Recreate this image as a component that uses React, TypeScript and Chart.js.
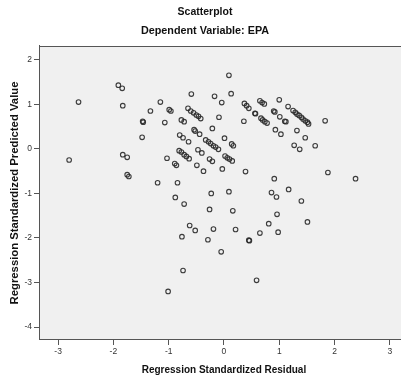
import React, { useEffect, useRef } from "react";
import { Chart, registerables } from "chart.js";

Chart.register(...registerables);

const residuals = [
  -1.91, -1.84, -2.63, -1.83, -1.15, -1.33, -0.99, -0.96, -1.47, -1.46,
  -1.07, -1.48, -1.83, -1.75, -2.8, -1.03, -1.75, -1.72, -1.2, -0.84,
  0.09, -0.59, -0.17, 0.13, -0.04, 0.37, 0.41, 0.45, 0.65, 0.69,
  0.73, -0.65, -0.6, -0.55, -0.5, -0.46, -0.42, -0.09, 0.56, 0.57,
  0.36, 0.67, 0.7, 0.74, 0.78, -0.77, -0.72, -0.54, -0.52, -0.44,
  -0.21, -0.8, -0.74, -0.64, -0.33, -0.28, -0.24, -0.19, -0.15, -0.1,
  0.01, 0.14, 0.17, -0.81, -0.77, -0.72, -0.68, -0.63, -0.47, -0.4,
  -0.89, -0.86, -0.26, -0.21, 0.02, 0.06, 0.1, 0.15, -0.49, -0.37,
  -0.03, 0.39, 1.0, 0.9, 0.92, 1.01, 1.1, 1.12, 1.16, 1.25,
  1.29, 1.32, 1.36, 1.4, 1.43, 1.47, 1.51, 1.53, 1.83, 0.93,
  1.03, 1.32, 1.47, 1.27, 1.37, 1.65, 0.91, 1.88, 2.38, 1.17,
  1.4, 0.86, 0.95, -0.88, -0.72, -0.23, 0.09, -0.26, 0.16, 0.96,
  -0.62, -0.52, -0.19, 0.21, 0.81, 1.51, 0.65, 0.98, -0.76, -0.29,
  0.45, 0.46, -0.05, -0.74, 0.59, -1.01,
];

const predicted = [
  1.43, 1.36, 1.05, 0.97, 1.05, 0.85, 0.88, 0.85, 0.62, 0.6,
  0.59, 0.26, -0.13, -0.19, -0.25, -0.21, -0.58, -0.62, -0.76, -0.76,
  1.65, 1.23, 1.18, 1.24, 1.04, 1.02, 0.97, 0.91, 1.08, 1.04,
  1.01, 0.91, 0.85, 0.81, 0.76, 0.73, 0.68, 0.71, 0.8, 0.79,
  0.62, 0.69, 0.65, 0.61, 0.58, 0.65, 0.61, 0.43, 0.4, 0.33,
  0.46, 0.31, 0.25, 0.16, 0.2, 0.16, 0.12, 0.07, 0.04, -0.01,
  0.24, 0.11, 0.07, -0.04, -0.07, -0.13, -0.17, -0.22, -0.02, -0.09,
  -0.33, -0.37, -0.23, -0.28, -0.16, -0.2, -0.23, -0.27, -0.37, -0.5,
  -0.45, -0.51, 1.1, 0.85, 0.83, 0.72, 0.62, 0.61, 0.95, 0.86,
  0.82, 0.78, 0.75, 0.71, 0.67, 0.63, 0.6, 0.56, 0.63, 0.43,
  0.33, 0.41, 0.25, 0.08, -0.01, 0.07, -0.67, -0.53, -0.67, -0.91,
  -1.17, -0.98, -1.08, -1.09, -1.24, -1.0, -0.96, -1.36, -1.39, -1.47,
  -1.72, -1.83, -1.8, -1.81, -1.68, -1.64, -1.89, -1.87, -1.97, -2.04,
  -2.05, -2.06, -2.31, -2.73, -2.95, -3.2,
];

const xTickValues = [-3, -2, -1, 0, 1, 2, 3];
const yTickValues = [-4, -3, -2, -1, 0, 1, 2];

const chartTitle = "Scatterplot";
const chartSubtitle = "Dependent Variable: EPA";
const xAxisTitle = "Regression Standardized Residual";
const yAxisTitle = "Regression Standardized Predicted Value";

const FONT = "'Liberation Sans', Arial, sans-serif";

const plotFrame = {
  id: "plotFrame",
  beforeDraw(chart: any) {
    const { ctx, chartArea: a } = chart;
    ctx.save();
    ctx.fillStyle = "#f0f0f0";
    ctx.fillRect(a.left, a.top, a.right - a.left, a.bottom - a.top);
    ctx.restore();
  },
  beforeDatasetsDraw(chart: any) {
    const { ctx, chartArea: a } = chart;
    ctx.save();
    ctx.strokeStyle = "#555";
    ctx.lineWidth = 1;
    const l = Math.round(a.left) + 0.5;
    const t = Math.round(a.top) + 0.5;
    const r = Math.round(a.right) - 0.5;
    const b = Math.round(a.bottom) - 0.5;
    ctx.strokeRect(l, t, r - l, b - t);
    ctx.restore();
  },
};

export default function App() {
  const canvasRef = useRef<HTMLCanvasElement | null>(null);

  useEffect(() => {
    if (!canvasRef.current) return;
    const points = residuals.map((x, i) => ({ x, y: predicted[i] }));
    const chart = new Chart(canvasRef.current, {
      type: "scatter",
      data: {
        datasets: [
          {
            data: points,
            pointStyle: "circle",
            pointRadius: 2.3,
            pointBorderWidth: 1.1,
            pointBorderColor: "rgba(40,40,40,0.9)",
            pointBackgroundColor: "rgba(0,0,0,0)",
          },
        ],
      },
      plugins: [plotFrame],
      options: {
        responsive: false,
        animation: false,
        layout: { padding: { left: 0, right: 4, top: 0, bottom: 0 } },
        plugins: {
          legend: { display: false },
          tooltip: { enabled: false },
          title: {
            display: true,
            text: chartTitle,
            color: "#111",
            font: { family: FONT, size: 10.5, weight: "bold" },
            padding: { top: 6, bottom: 2 },
          },
          subtitle: {
            display: true,
            text: chartSubtitle,
            color: "#111",
            font: { family: FONT, size: 10.8, weight: "bold" },
            padding: { top: 4, bottom: 8.4 },
          },
        },
        scales: {
          x: {
            type: "linear",
            min: -3.345,
            max: 3.345,
            afterBuildTicks: (scale: any) => {
              scale.ticks = xTickValues.map((v) => ({ value: v }));
            },
            afterFit: (scale: any) => {
              scale.height = 37;
            },
            grid: {
              display: true,
              drawOnChartArea: false,
              drawTicks: true,
              tickLength: 5,
              tickColor: "#555",
            },
            border: { display: true, color: "#555" },
            ticks: {
              padding: 2,
              color: "#333",
              font: { family: FONT, size: 8.5 },
              maxRotation: 0,
            },
            title: {
              display: true,
              text: xAxisTitle,
              color: "#111",
              font: { family: FONT, size: 10, weight: "bold" },
              padding: { top: 0, bottom: 1.2 },
            },
          },
          y: {
            type: "linear",
            min: -4.29,
            max: 2.31,
            afterBuildTicks: (scale: any) => {
              scale.ticks = yTickValues.map((v) => ({ value: v }));
            },
            afterFit: (scale: any) => {
              scale.width = 39;
            },
            grid: {
              display: true,
              drawOnChartArea: false,
              drawTicks: true,
              tickLength: 5,
              tickColor: "#555",
            },
            border: { display: true, color: "#555" },
            ticks: {
              padding: 2,
              color: "#333",
              font: { family: FONT, size: 8.5 },
            },
            title: {
              display: true,
              text: yAxisTitle,
              color: "#111",
              font: { family: FONT, size: 11.3, weight: "bold" },
              padding: { top: 8.5, bottom: 0 },
            },
          },
        },
      },
    });
    return () => chart.destroy();
  }, []);

  return (
    <div
      style={{
        position: "absolute",
        left: 0,
        top: 0,
        width: 401,
        height: 377,
        overflow: "hidden",
        background: "#fff",
      }}
    >
      <canvas
        ref={canvasRef}
        width={414}
        height={377}
        style={{ display: "block", width: 414, height: 377 }}
      />
    </div>
  );
}
